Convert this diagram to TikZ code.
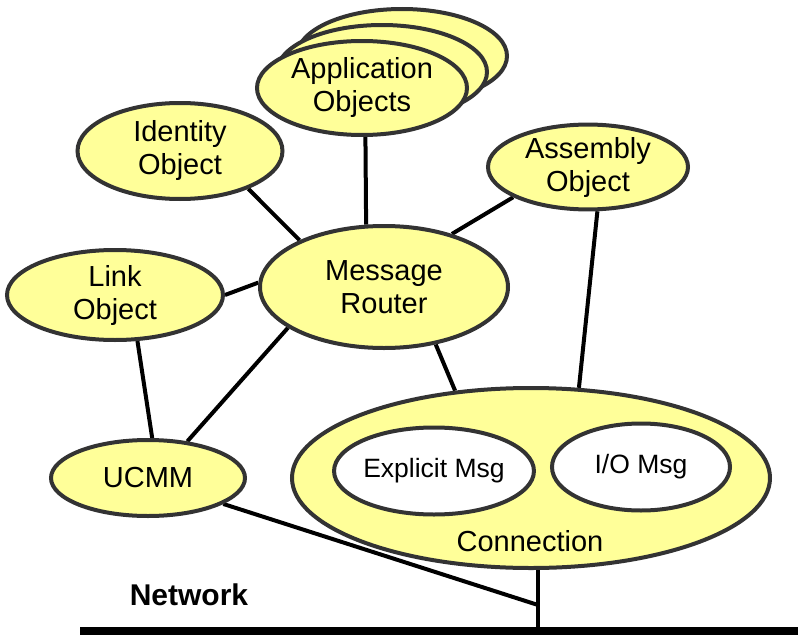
\documentclass[tikz,border=0pt]{standalone}
\usepackage{fontspec}
\setmainfont{Liberation Sans}
\usetikzlibrary{shapes.geometric,backgrounds}
\definecolor{objfill}{HTML}{FFFF99}
\definecolor{objline}{HTML}{333333}
\begin{document}
\begin{tikzpicture}[x=1pt,y=-1pt,
  obj/.style={ellipse, draw=objline, line width=4pt, fill=objfill, inner sep=0pt,
    align=center, font=\fontsize{29}{33}\selectfont},
  msg/.style={ellipse, draw=objline, line width=4pt, fill=white, inner sep=0pt,
    font=\fontsize{26.5}{30}\selectfont},
  link/.style={line width=4pt, black},
  lbl/.style={inner sep=0pt, font=\fontsize{29}{33}\selectfont}]
\useasboundingbox (0,0) rectangle (798,637);

% application objects stack
\node[obj, minimum width=210pt, minimum height=94pt] (app3) at (402,56) {};
\node[obj, minimum width=210pt, minimum height=94pt] (app2) at (382,72) {};
\node[obj, minimum width=210pt, minimum height=94pt] (app) at (362,88) {Application\\Objects};

\node[obj, minimum width=205pt, minimum height=96pt] (ident) at (180,151) {Identity\\Object};
\node[obj, minimum width=200pt, minimum height=82pt] (asm) at (588,167) {Assembly\\Object};
\node[obj, minimum width=248pt, minimum height=122pt] (mr) at (384,287) {Message\\Router};
\node[obj, minimum width=216pt, minimum height=90pt] (linkobj) at (115,295) {Link\\Object};
\node[obj, minimum width=194pt, minimum height=76pt] (ucmm) at (148,478) {UCMM};

\node[obj, minimum width=478pt, minimum height=180pt] (conn) at (531,478) {};
\node[msg, minimum width=192pt, minimum height=87pt] (expl) at (434,471) {Explicit Msg};
\node[msg, minimum width=178pt, minimum height=87pt] (io) at (641,467) {I/O Msg};
\node[lbl] (connlbl) at (530,541) {Connection};

\node[lbl, font=\fontsize{30}{34}\selectfont\bfseries] (netlbl) at (189,595) {Network};

% network bus
\coordinate (netL) at (80,631);
\coordinate (netR) at (798,631);
\coordinate (netj) at (538,631);
\coordinate (ujoin) at (538,605);
\draw[line width=7.5pt] (netL) -- (netR);

\begin{pgfonlayer}{background}
\draw[link] (app.-86) -- (mr.106);
\draw[link] (ident.-29) -- (mr.151);
\draw[link] (asm.202) -- (mr.38);
\draw[link] (linkobj.0) -- (mr.178);
\draw[link] (mr.203) -- (ucmm.43);
\draw[link] (linkobj.-64) -- (ucmm.84);
\draw[link] (mr.-48) -- (conn.131);
\draw[link] (asm.-78) -- (conn.62);
\draw[link] (ucmm.-19) -- (ujoin);
\draw[link] (netj |- conn.south) -- (netj);
\end{pgfonlayer}
\end{tikzpicture}
\end{document}
